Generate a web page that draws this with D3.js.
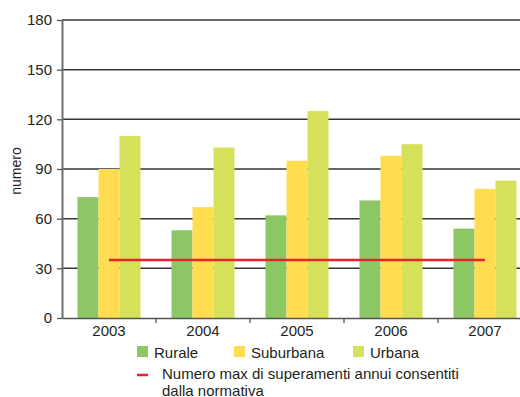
<!DOCTYPE html>
<html>
<head>
<meta charset="utf-8">
<script src="https://cdn.jsdelivr.net/npm/d3@7"></script>
<style>
  html, body { margin: 0; padding: 0; background: #fff; }
  svg { display: block; font-family: "Liberation Sans", Arial, sans-serif; }
</style>
</head>
<body>
<svg id="chart" width="520" height="397"></svg>
<script>
// Superamenti annui per tipo di stazione
const years = ["2003", "2004", "2005", "2006", "2007"];
const seriesNames = ["Rurale", "Suburbana", "Urbana"];
const rurale = [73, 53, 62, 71, 54];
const suburbana = [90, 67, 95, 98, 78];
const urbana = [110, 103, 125, 105, 83];
const limite = [35, 35, 35, 35, 35];
const yTicks = [0, 30, 60, 90, 120, 150, 180];
const limitLabel = ["Numero max di superamenti annui consentiti", "dalla normativa"];

const colors = { Rurale: "#8dc665", Suburbana: "#ffdc50", Urbana: "#d5e05b" };
const seriesValues = { Rurale: rurale, Suburbana: suburbana, Urbana: urbana };
const textColor = "#231f20";
const fontSize = 15;

const svg = d3.select("#chart");
const plotLeft = 62, plotTop = 20, plotBottom = 318;
const bandW = 94;
const plotRight = plotLeft + bandW * years.length;

const x = d3.scaleBand().domain(years).range([plotLeft, plotRight]).paddingInner(0).paddingOuter(0);
const y = d3.scaleLinear().domain([0, 180]).range([plotBottom, plotTop]);
const barW = 21;
const xs = d3.scaleBand().domain(seriesNames).range([0, barW * 3]);

// horizontal grid
svg.append("g")
  .selectAll("line")
  .data(yTicks.filter(d => d > 0))
  .join("line")
  .attr("x1", plotLeft).attr("x2", 520)
  .attr("y1", d => y(d)).attr("y2", d => y(d))
  .attr("stroke", "#353535").attr("stroke-width", 1.5);

// bars
seriesNames.forEach(name => {
  svg.append("g")
    .selectAll("rect")
    .data(years.map((yr, i) => ({ yr, v: seriesValues[name][i] })))
    .join("rect")
    .attr("x", d => x(d.yr) + (x.bandwidth() - barW * 3) / 2 + xs(name))
    .attr("width", barW)
    .attr("y", d => y(d.v))
    .attr("height", d => plotBottom - y(d.v))
    .attr("fill", colors[name]);
});

// limit line
const line = d3.line()
  .x((d, i) => x(years[i]) + x.bandwidth() / 2)
  .y(d => y(d));
svg.append("path")
  .datum(limite)
  .attr("d", line)
  .attr("fill", "none")
  .attr("stroke", "#e8232a")
  .attr("stroke-width", 2.5);

// y axis
const yAxis = d3.axisLeft(y).tickValues(yTicks).tickSize(5).tickPadding(5).tickSizeOuter(0);
const gy = svg.append("g").attr("transform", `translate(${plotLeft},0)`).call(yAxis);
gy.select(".domain").attr("stroke", "#6e6e6e").attr("stroke-width", 2);
gy.selectAll(".tick line").attr("stroke", "#555").attr("stroke-width", 1.3);
gy.selectAll(".tick text").attr("font-size", fontSize).attr("fill", textColor)
  .attr("font-family", "Liberation Sans, Arial, sans-serif");

// x axis
const xAxis = d3.axisBottom(x).tickSize(0).tickPadding(7);
const gx = svg.append("g").attr("transform", `translate(0,${plotBottom})`).call(xAxis);
gx.select(".domain").attr("stroke", "#555").attr("stroke-width", 1.6);
gx.selectAll(".tick text").attr("font-size", fontSize).attr("fill", textColor)
  .attr("font-family", "Liberation Sans, Arial, sans-serif");
// category separators
svg.append("g")
  .selectAll("line")
  .data(years)
  .join("line")
  .attr("x1", d => x(d) + bandW).attr("x2", d => x(d) + bandW)
  .attr("y1", plotBottom).attr("y2", plotBottom + 5)
  .attr("stroke", "#555").attr("stroke-width", 1.3);

// y axis title
svg.append("text")
  .attr("transform", "translate(21,171) rotate(-90)")
  .attr("text-anchor", "middle")
  .attr("font-size", 14)
  .attr("fill", textColor)
  .text("numero");

// legend
const legendPos = [
  { name: "Rurale", x: 137 },
  { name: "Suburbana", x: 234 },
  { name: "Urbana", x: 353 }
];
const lg = svg.append("g");
legendPos.forEach(p => {
  lg.append("rect").attr("x", p.x).attr("y", 346).attr("width", 11).attr("height", 11)
    .attr("fill", colors[p.name]);
  lg.append("text").attr("x", p.x + 17).attr("y", 358)
    .attr("font-size", fontSize).attr("fill", textColor).text(p.name);
});
lg.append("line").attr("x1", 137).attr("x2", 148).attr("y1", 375).attr("y2", 375)
  .attr("stroke", "#e8232a").attr("stroke-width", 2.5);
limitLabel.forEach((t, i) => {
  lg.append("text").attr("x", 162).attr("y", 379 + i * 17)
    .attr("font-size", fontSize).attr("fill", textColor).text(t);
});
</script>
</body>
</html>
